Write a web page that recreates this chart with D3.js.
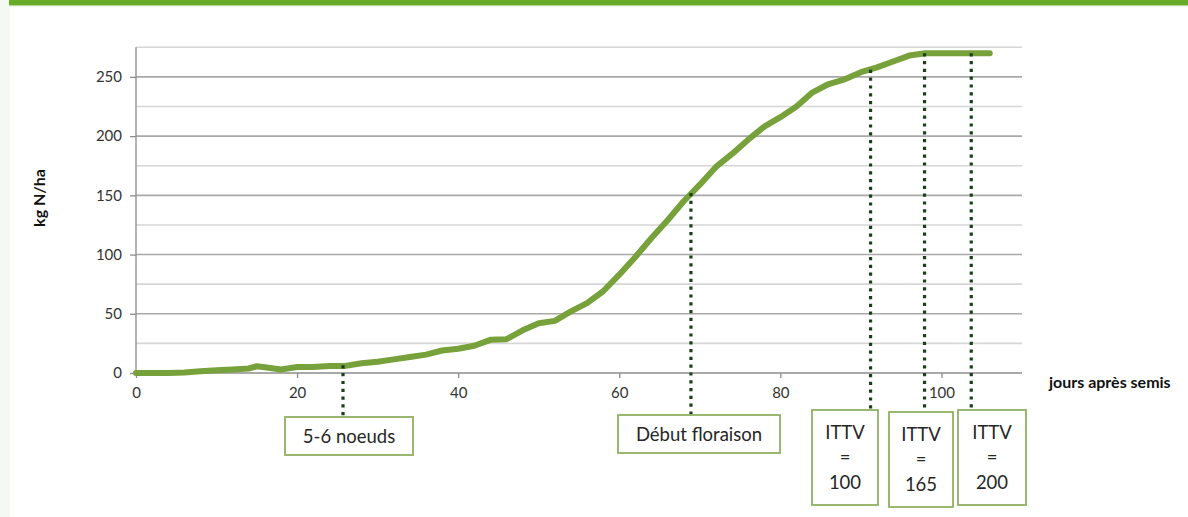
<!DOCTYPE html>
<html>
<head>
<meta charset="utf-8">
<script src="https://cdn.jsdelivr.net/npm/d3@7"></script>
<style>
  html, body { margin: 0; padding: 0; background: #ffffff; }
  svg { display: block; }
</style>
</head>
<body>
<svg id="chart" width="1188" height="517"></svg>
<script>
// ---------- data ----------
const days = [0, 2, 4, 6, 8, 10, 12, 14, 15, 16, 18, 20, 22, 24, 26, 28, 30, 32, 34, 36, 38, 40,
  42, 44, 46, 48, 50, 52, 54, 56, 58, 60, 62, 64, 66, 68, 70, 72, 74, 76, 78, 80, 82, 84, 86, 88,
  90, 92, 94, 96, 98, 100, 102, 104, 106];
const nitrogen = [0, 0, 0, 0.5, 1.5, 2.3, 3, 3.8, 5.7, 4.8, 3, 5, 5, 6, 6, 8.3, 9.5, 11.5, 13.5, 15.5, 19, 20.5,
  23, 28, 28.5, 36, 42, 44, 52, 59, 69, 83, 98, 114, 129, 145, 159, 174, 185, 197, 208, 216, 225, 237, 244, 248,
  254, 258, 263, 268, 270, 270, 270, 270, 270];
const xTicks = [0, 20, 40, 60, 80, 100];
const yTicks = [0, 50, 100, 150, 200, 250];
const yGrid = [25, 50, 75, 100, 125, 150, 175, 200, 225, 250, 275];
const annoDays = [25.7, 68.9, 91.2, 97.9, 103.7];
const annoValues = [6.5, 152, 256, 270, 270];
const annoLabels = [["5-6 noeuds"], ["Début floraison"], ["ITTV", "=", "100"], ["ITTV", "=", "165"], ["ITTV", "=", "200"]];
const yTitle = "kg N/ha";
const xTitle = "jours après semis";

// ---------- layout (pixels) ----------
const plot = { left: 136, right: 1022, top: 47.3, bottom: 373 };
const boxes = [
  { x: 285, y: 417, w: 128, h: 38 },
  { x: 618, y: 415, w: 162, h: 38 },
  { x: 812, y: 410, w: 66, h: 95 },
  { x: 889, y: 412, w: 64, h: 95 },
  { x: 958, y: 410, w: 68, h: 95 }
];
const FONT = "Lato, 'Open Sans', sans-serif";

const svg = d3.select("#chart");

// page decoration
svg.append("rect").attr("x", 0).attr("y", 0).attr("width", 10).attr("height", 517).attr("fill", "#f5f9f3");
svg.append("rect").attr("x", 9).attr("y", 0).attr("width", 1179).attr("height", 5).attr("fill", "#68ab27");
svg.append("rect").attr("x", 9).attr("y", 5).attr("width", 1179).attr("height", 1.2).attr("fill", "#b5d897");

const x = d3.scaleLinear().domain([0, 110]).range([plot.left, plot.right]);
const y = d3.scaleLinear().domain([0, 275]).range([plot.bottom, plot.top]);

// gridlines
svg.append("g").selectAll("line").data(yGrid).join("line")
  .attr("x1", plot.left).attr("x2", plot.right)
  .attr("y1", d => y(d)).attr("y2", d => y(d))
  .attr("stroke", d => (d % 50 === 0 ? "#a9a9a9" : "#d6d6d6"))
  .attr("stroke-width", 1.6);

// y axis
const yAxis = d3.axisLeft(y).tickValues(yTicks).tickSize(6).tickPadding(8).tickFormat(d3.format("d"));
const gy = svg.append("g").attr("transform", `translate(${plot.left},0)`).call(yAxis);
gy.select(".domain").attr("stroke", "#8c8c8c").attr("stroke-width", 1.3).attr("d", `M-0,${plot.bottom}V${plot.top}`);
gy.selectAll(".tick line").attr("stroke", "#8c8c8c").attr("stroke-width", 1.3);
gy.selectAll(".tick text").attr("font-family", FONT).attr("font-size", 15).attr("fill", "#333");

// x axis
const xAxis = d3.axisBottom(x).tickValues(xTicks).tickSize(5).tickPadding(9).tickFormat(d3.format("d"));
const gx = svg.append("g").attr("transform", `translate(0,${plot.bottom})`).call(xAxis);
gx.select(".domain").attr("stroke", "#8c8c8c").attr("stroke-width", 1.3).attr("d", `M${plot.left},0H${plot.right}`);
gx.selectAll(".tick line").attr("stroke", "#8c8c8c").attr("stroke-width", 1.3);
gx.selectAll(".tick text").attr("font-family", FONT).attr("font-size", 15).attr("fill", "#333");

// axis titles
svg.append("text")
  .attr("transform", "translate(45,198) rotate(-90)")
  .attr("text-anchor", "middle").attr("font-family", FONT).attr("font-weight", "bold")
  .attr("font-size", 16).attr("fill", "#111").text(yTitle);
svg.append("text")
  .attr("x", 1049).attr("y", 388)
  .attr("font-family", FONT).attr("font-weight", "bold")
  .attr("font-size", 16).attr("fill", "#111").text(xTitle);

// curve
const line = d3.line().x((d, i) => x(days[i])).y(d => y(d)).curve(d3.curveLinear);
svg.append("path").datum(nitrogen)
  .attr("d", line)
  .attr("fill", "none")
  .attr("stroke", "#77a13b")
  .attr("stroke-width", 6)
  .attr("stroke-linecap", "round")
  .attr("stroke-linejoin", "round");

// annotation dotted lines
svg.append("g").selectAll("line").data(annoDays).join("line")
  .attr("x1", d => x(d)).attr("x2", d => x(d))
  .attr("y1", (d, i) => y(annoValues[i]))
  .attr("y2", (d, i) => boxes[i].y)
  .attr("stroke", "#1b3f1b")
  .attr("stroke-width", 3.2)
  .attr("stroke-dasharray", "3.2,4.6");

// annotation boxes
const ag = svg.append("g").selectAll("g").data(annoLabels).join("g");
ag.append("rect")
  .attr("x", (d, i) => boxes[i].x).attr("y", (d, i) => boxes[i].y)
  .attr("width", (d, i) => boxes[i].w).attr("height", (d, i) => boxes[i].h)
  .attr("fill", "#ffffff").attr("stroke", "#8fb160").attr("stroke-width", 1.8);
ag.each(function (lines, i) {
  const b = boxes[i];
  const g = d3.select(this);
  const step = 25;
  const cy = b.y + b.h / 2;
  lines.forEach((t, k) => {
    g.append("text")
      .attr("x", b.x + b.w / 2)
      .attr("y", cy + (k - (lines.length - 1) / 2) * step)
      .attr("dy", "0.36em")
      .attr("text-anchor", "middle")
      .attr("font-family", FONT)
      .attr("font-size", 18.5)
      .attr("fill", "#262626")
      .text(t);
  });
});
</script>
</body>
</html>
